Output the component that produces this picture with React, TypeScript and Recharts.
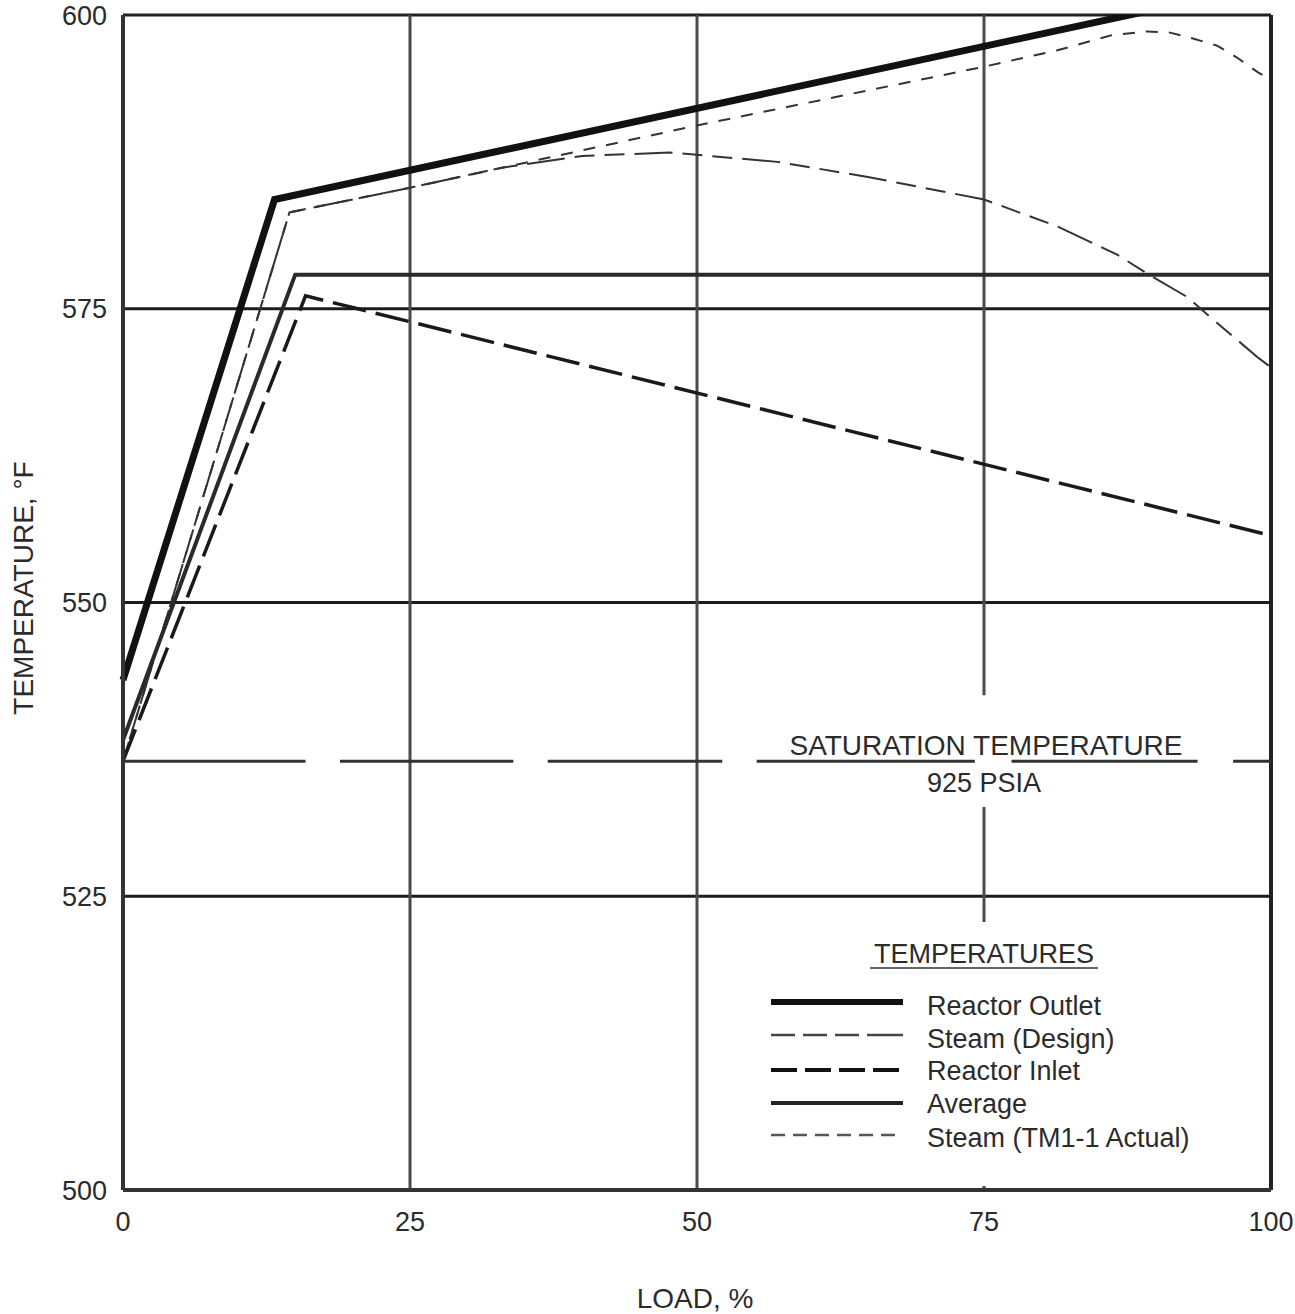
import { LineChart, Line, XAxis, YAxis, ReferenceLine, ReferenceDot, Legend } from "recharts";

const FONT = '"Liberation Sans", Arial, Helvetica, sans-serif';
const INK = "#2b2b2b";

const LOAD_TICKS = [0, 25, 50, 75, 100];
const TEMP_TICKS = [500, 525, 550, 575, 600];

// curves (load %, temperature °F)
const reactorOutlet = [
  { load: 0, temp: 543.4 },
  { load: 13.2, temp: 584.3 },
  { load: 100, temp: 602.6 },
];

const average = [
  { load: 0, temp: 538.3 },
  { load: 15, temp: 577.9 },
  { load: 100, temp: 577.9 },
];

const reactorInlet = [
  { load: 0, temp: 536.5 },
  { load: 15.9, temp: 576.1 },
  { load: 100, temp: 555.7 },
];

const steamDesign = [
  { load: 0, temp: 536.5 },
  { load: 14.5, temp: 583.2 },
  { load: 25, temp: 585.3 },
  { load: 33, temp: 587.0 },
  { load: 40, temp: 588.0 },
  { load: 47.6, temp: 588.3 },
  { load: 57, temp: 587.5 },
  { load: 65, temp: 586.2 },
  { load: 75, temp: 584.3 },
  { load: 81.4, temp: 582.0 },
  { load: 86.6, temp: 579.6 },
  { load: 89.2, temp: 578.0 },
  { load: 92.7, temp: 576.0 },
  { load: 94.7, temp: 574.3 },
  { load: 98.8, temp: 570.9 },
  { load: 100, temp: 570.0 },
];

const steamActual = [
  { load: 0, temp: 536.5 },
  { load: 14.5, temp: 583.2 },
  { load: 25, temp: 585.3 },
  { load: 50, temp: 590.6 },
  { load: 75, temp: 595.6 },
  { load: 81.4, temp: 597.0 },
  { load: 86.2, temp: 598.3 },
  { load: 89.2, temp: 598.6 },
  { load: 91.2, temp: 598.5 },
  { load: 93.2, temp: 598.0 },
  { load: 95.3, temp: 597.4 },
  { load: 97, temp: 596.4 },
  { load: 98.9, temp: 595.1 },
  { load: 100, temp: 594.5 },
];

// saturation line at 925 psia, drawn in pieces (the original has breaks)
const SAT_TEMP = 536.5;
const satPieces = [
  [0, 15.9],
  [18.9, 34.0],
  [37.0, 52.2],
  [55.2, 74.2],
  [77.4, 93.6],
  [96.7, 100],
];

const legendItems = [
  { name: "Reactor Outlet", width: 6, dash: undefined, color: "#111" },
  { name: "Steam (Design)", width: 2.5, dash: "24 8 24 8 24 8 40", color: "#444" },
  { name: "Reactor Inlet", width: 4, dash: "26 8", color: "#111" },
  { name: "Average", width: 4, dash: undefined, color: "#222" },
  { name: "Steam (TM1-1 Actual)", width: 2.5, dash: "14 8", color: "#555" },
];

const gridLine = { stroke: "#1c1c1c", strokeWidth: 3 };
const vGridLine = { stroke: "#4a4a4a", strokeWidth: 3 };

function TempLegend() {
  const rowY = [72, 105, 140, 173, 205];
  const textY = [85, 118, 150, 183, 217];
  return (
    <svg width={470} height={256} style={{ overflow: "visible" }}>
      {/* blank box behind the key, hides the 75 % grid line like the original */}
      <rect x={0} y={-8} width={455} height={264} fill="#fff" />
      <text x={224} y={33} textAnchor="middle" fontSize={27} fontFamily={FONT} fill={INK}>
        TEMPERATURES
      </text>
      <line x1={110} x2={338} y1={38} y2={38} stroke="#666" strokeWidth={2} />
      {legendItems.map((it, i) => (
        <g key={it.name}>
          <line
            x1={11}
            x2={143}
            y1={rowY[i]}
            y2={rowY[i]}
            stroke={it.color}
            strokeWidth={it.width}
            strokeDasharray={it.dash}
          />
          <text x={167} y={textY[i]} fontSize={27} fontFamily={FONT} fill={INK}>
            {it.name}
          </text>
        </g>
      ))}
    </svg>
  );
}

function SaturationLabel({ viewBox }: any) {
  const cx = viewBox.x + viewBox.width / 2;
  const cy = viewBox.y + viewBox.height / 2;
  return (
    <g fontFamily={FONT} fill={INK} fontSize={28}>
      <text x={cx + 2} y={cy - 6} textAnchor="middle">
        SATURATION TEMPERATURE
      </text>
      <text x={cx} y={cy + 31} textAnchor="middle" fontSize={27}>
        925 PSIA
      </text>
    </g>
  );
}

export default function App() {
  return (
    <div style={{ position: "absolute", left: 0, top: 0, background: "#fff" }}>
      <LineChart width={1295} height={1314} margin={{ top: 15, right: 24, left: 0, bottom: 0 }}>
        <XAxis
          type="number"
          dataKey="load"
          domain={[0, 100]}
          ticks={LOAD_TICKS}
          height={124}
          tickSize={0}
          tickMargin={22}
          tickLine={false}
          axisLine={{ stroke: "#333", strokeWidth: 4 }}
          tick={{ fill: INK, fontSize: 27, fontFamily: FONT }}
          label={({ viewBox }: any) => (
            <text
              x={viewBox.x + 572}
              y={viewBox.y + 118}
              textAnchor="middle"
              fontSize={28}
              fontFamily={FONT}
              fill={INK}
            >
              LOAD, %
            </text>
          )}
        />
        <YAxis
          type="number"
          domain={[500, 600]}
          ticks={TEMP_TICKS}
          allowDataOverflow
          width={123}
          tickSize={0}
          tickMargin={16}
          tickLine={false}
          axisLine={{ stroke: "#333", strokeWidth: 4 }}
          tick={{ fill: INK, fontSize: 27, fontFamily: FONT }}
          label={({ viewBox }: any) => (
            <text
              x={viewBox.x + 33}
              y={viewBox.y + 573}
              transform={`rotate(-90, ${viewBox.x + 33}, ${viewBox.y + 573})`}
              textAnchor="middle"
              fontSize={28}
              fontFamily={FONT}
              fill={INK}
            >
              TEMPERATURE, °F
            </text>
          )}
        />

        {/* frame + grid */}
        <ReferenceLine y={600} stroke="#222" strokeWidth={3} />
        <ReferenceLine x={100} stroke="#222" strokeWidth={4} />
        <ReferenceLine y={525} {...gridLine} />
        <ReferenceLine y={550} {...gridLine} />
        <ReferenceLine y={575} {...gridLine} />
        <ReferenceLine x={25} {...vGridLine} />
        <ReferenceLine x={50} {...vGridLine} />
        <ReferenceLine segment={[{ x: 75, y: 500 }, { x: 75, y: 532.6 }]} {...vGridLine} />
        <ReferenceLine segment={[{ x: 75, y: 542.1 }, { x: 75, y: 600 }]} {...vGridLine} />

        {satPieces.map(([a, b]) => (
          <ReferenceLine
            key={a}
            segment={[{ x: a, y: SAT_TEMP }, { x: b, y: SAT_TEMP }]}
            stroke="#333"
            strokeWidth={3}
          />
        ))}
        <ReferenceDot x={75} y={SAT_TEMP} r={1} fill="none" stroke="none" label={SaturationLabel} />

        <Line
          data={steamDesign}
          dataKey="temp"
          name="Steam (Design)"
          type="linear"
          stroke="#333"
          strokeWidth={2}
          strokeDasharray="20 10 20 10 38 10"
          dot={false}
          isAnimationActive={false}
        />
        <Line
          data={steamActual}
          dataKey="temp"
          name="Steam (TM1-1 Actual)"
          type="linear"
          stroke="#333"
          strokeWidth={2}
          strokeDasharray="12 11"
          dot={false}
          isAnimationActive={false}
        />
        <Line
          data={reactorInlet}
          dataKey="temp"
          name="Reactor Inlet"
          type="linear"
          stroke="#1a1a1a"
          strokeWidth={3.5}
          strokeDasharray="34 10"
          dot={false}
          isAnimationActive={false}
        />
        <Line
          data={average}
          dataKey="temp"
          name="Average"
          type="linear"
          stroke="#2a2a2a"
          strokeWidth={4}
          dot={false}
          isAnimationActive={false}
        />
        <Line
          data={reactorOutlet}
          dataKey="temp"
          name="Reactor Outlet"
          type="linear"
          stroke="#111"
          strokeWidth={7}
          dot={false}
          isAnimationActive={false}
        />

        <Legend
          layout="horizontal"
          verticalAlign="middle"
          align="center"
          content={() => <TempLegend />}
          wrapperStyle={{ left: 760, top: 930, width: 470, height: 256 }}
        />
      </LineChart>
    </div>
  );
}
